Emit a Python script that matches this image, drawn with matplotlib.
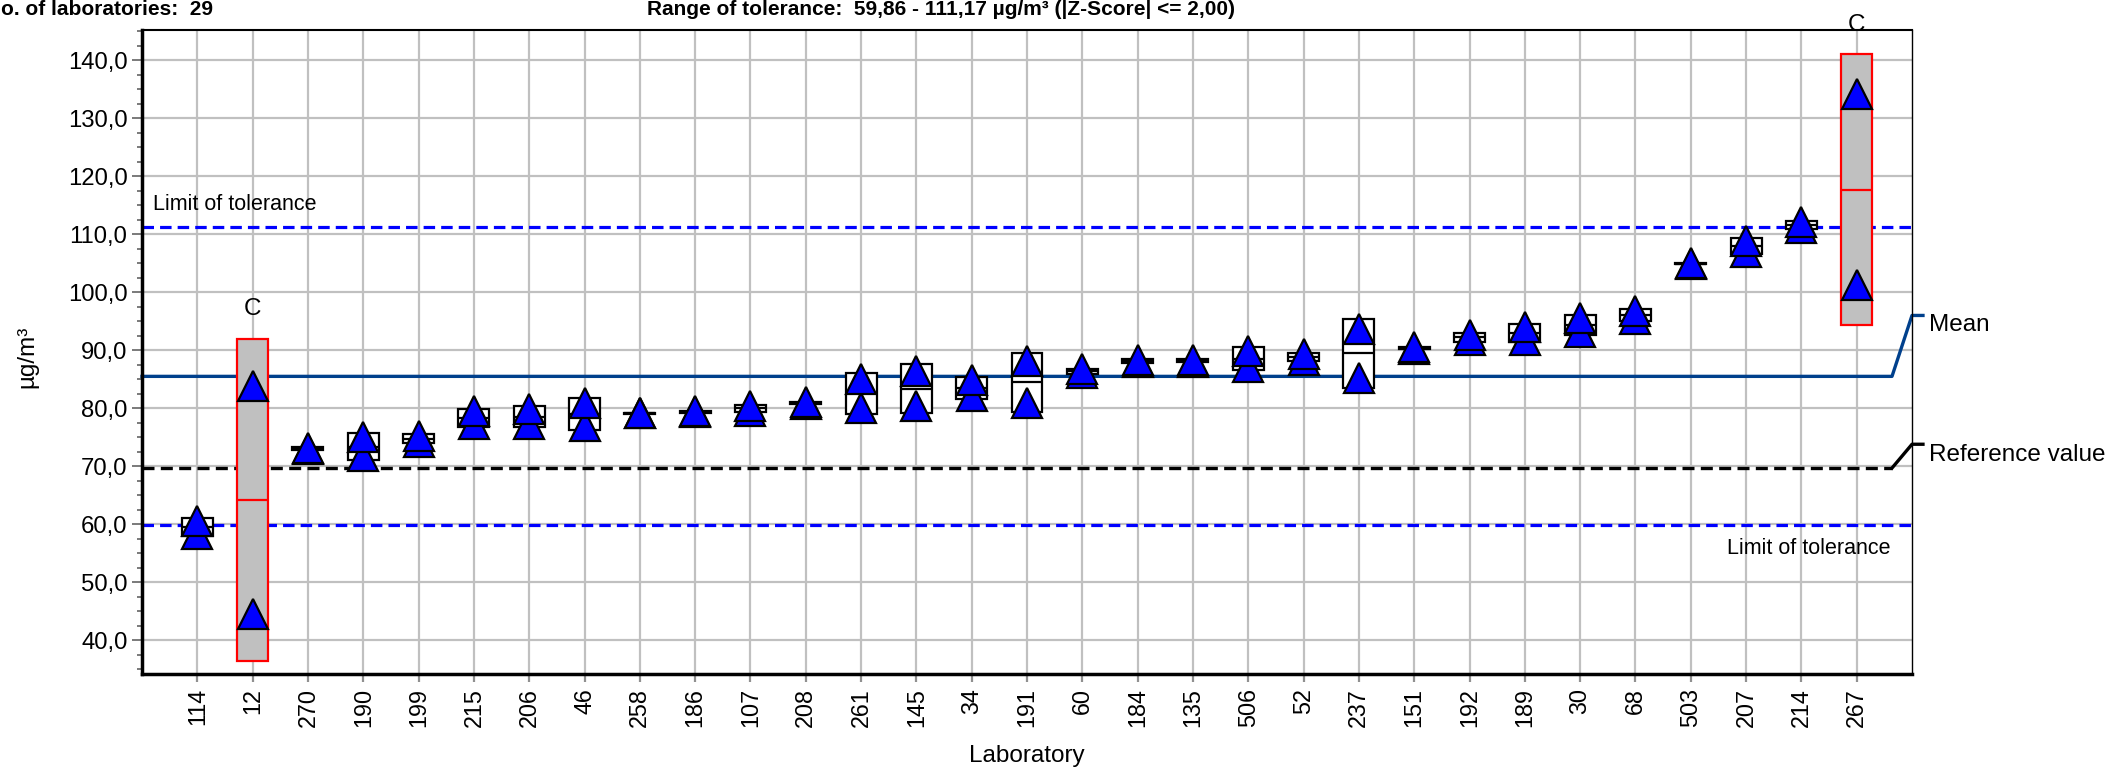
import matplotlib
matplotlib.use('Agg')
import matplotlib.pyplot as plt
import matplotlib.transforms as mtransforms
from matplotlib.patches import Rectangle
from matplotlib.ticker import MultipleLocator, FuncFormatter
import numpy as np

plt.rcParams['font.family'] = ['Liberation Sans', 'DejaVu Sans']

# laboratories, in plotted order
labs = ['114', '12', '270', '190', '199', '215', '206', '46', '258', '186',
        '107', '208', '261', '145', '34', '191', '60', '184', '135', '506',
        '52', '237', '151', '192', '189', '30', '68', '503', '207', '214', '267']

# the two single results of every lab (µg/m³)
value_hi = [60.6, 83.8, 73.2, 75.0, 75.3, 79.5, 79.8, 80.9, 79.2, 79.5,
            80.4, 81.0, 85.0, 86.4, 84.8, 88.1, 86.7, 88.4, 88.4, 89.9,
            89.3, 93.6, 90.5, 92.7, 94.0, 95.6, 96.8, 105.0, 108.9, 112.1, 134.2]
value_lo = [58.4, 44.5, 72.9, 71.8, 74.2, 77.3, 77.3, 77.0, 79.1, 79.3,
            79.6, 80.8, 80.1, 80.4, 82.2, 80.9, 86.1, 87.9, 88.0, 87.1,
            88.4, 85.3, 90.2, 91.7, 91.8, 93.2, 95.4, 104.9, 107.0, 111.1, 101.2]

# labs marked "C"
flagged = ['12', '267']

n_labs = 29
tol_low = 59.86
tol_high = 111.17
mean_value = 85.5
reference_value = 69.7

x = np.arange(len(labs))
vals = np.array([value_hi, value_lo])
lab_mean = vals.mean(axis=0)
lab_sd = vals.std(axis=0, ddof=1)

fig = plt.figure(figsize=(21.1, 7.71), dpi=100)
ax = fig.add_axes([142 / 2110, 1 - 674 / 771, 1770 / 2110, 644 / 771])
ax.set_xlim(-1, len(labs))
ax.set_ylim(34.2, 145.2)

# grid
ax.set_axisbelow(True)
ax.grid(True, which='major', color='#C0C0C0', lw=1.6)

blend = mtransforms.blended_transform_factory(ax.transAxes, ax.transData)

# limits of tolerance
for v in (tol_low, tol_high):
    ax.axhline(v, color='#0000FF', lw=2.3, dashes=(3.6, 1.9), zorder=1.5)
ax.text(0.0062, 114.25, 'Limit of tolerance', transform=blend, fontsize=15.5,
        ha='left', va='baseline')
ax.text(0.988, 54.9, 'Limit of tolerance', transform=blend, fontsize=15.5,
        ha='right', va='baseline')

# mean line with leader
ax.plot([0, 0.9887, 1.0, 1.0062], [mean_value, mean_value, 96.0, 96.0],
        transform=blend, color='#00408C', lw=2.4, clip_on=False, zorder=1.6)
ax.text(1.0094, 93.3, 'Mean', transform=blend, fontsize=17.5,
        ha='left', va='baseline')

# reference value with leader
ax.plot([0, 0.9887], [reference_value, reference_value], transform=blend,
        color='black', lw=2.4, dashes=(3.6, 1.9), clip_on=False, zorder=1.6)
ax.plot([0.9887, 1.0, 1.0062], [reference_value, 73.8, 73.8], transform=blend,
        color='black', lw=2.4, clip_on=False, zorder=1.6)
ax.text(1.0094, 70.9, 'Reference value', transform=blend, fontsize=17.5,
        ha='left', va='baseline')

# boxes: mean +/- sd of each lab
w = 0.56
for i, lab in enumerate(labs):
    lo = lab_mean[i] - lab_sd[i]
    hi = lab_mean[i] + lab_sd[i]
    if lab in flagged:
        fc, ec = '#C0C0C0', '#FF0000'
    else:
        fc, ec = 'white', 'black'
    ax.add_patch(Rectangle((x[i] - w / 2, lo), w, hi - lo, facecolor=fc,
                           edgecolor=ec, lw=1.6, zorder=3))
    ax.plot([x[i] - w / 2, x[i] + w / 2], [lab_mean[i]] * 2, color=ec,
            lw=1.6, zorder=3.2, solid_capstyle='butt')
    if lab in flagged:
        ax.annotate('C', (x[i], hi), xytext=(0, 17), textcoords='offset points',
                    ha='center', va='baseline', fontsize=17.5)

# single results
ax.plot(x, value_lo, '^', ms=21.5, mfc='#0000FF', mec='black', mew=1.6,
        ls='none', zorder=4)
ax.plot(x, value_hi, '^', ms=21.5, mfc='#0000FF', mec='black', mew=1.6,
        ls='none', zorder=4.1)

# axes
ax.set_xticks(x)
ax.set_xticklabels(labs)
ax.yaxis.set_major_locator(MultipleLocator(10))
ax.yaxis.set_minor_locator(MultipleLocator(2.5))
ax.yaxis.set_major_formatter(FuncFormatter(lambda v, p: f'{v:.1f}'.replace('.', ',')))
ax.tick_params(axis='y', which='major', length=7, width=1.3, color='#707070',
               labelsize=17.2, pad=3.5)
ax.tick_params(axis='y', which='minor', length=3.6, width=1.3, color='#707070')
ax.tick_params(axis='x', length=6, width=1.6, color='#909090', labelsize=16.8,
               pad=4, labelrotation=90)

ax.spines['left'].set_linewidth(2.5)
ax.spines['bottom'].set_linewidth(2.5)
ax.spines['top'].set_linewidth(1.5)
ax.spines['right'].set_linewidth(1.0)

fig.text(27 / 2110, 1 - 357 / 771, 'µg/m³', rotation=90, fontsize=17.5,
         ha='center', va='center')
fig.text(1027 / 2110, 1 - 756 / 771, 'Laboratory', fontsize=17.5,
         ha='center', va='center')

# header (the first letter is cut at the left edge, as in the original)
fig.text(-14 / 2110, 1 - 15 / 771, f'No. of laboratories:  {n_labs}',
         fontsize=15, fontweight='bold', ha='left', va='baseline')
fig.text(647 / 2110, 1 - 15 / 771,
         f'Range of tolerance:  {tol_low:.2f} - {tol_high:.2f} µg/m³ (|Z-Score| <= 2,00)'.replace('.', ','),
         fontsize=15, fontweight='bold', ha='left', va='baseline')

fig.savefig('out.png', dpi=100)
